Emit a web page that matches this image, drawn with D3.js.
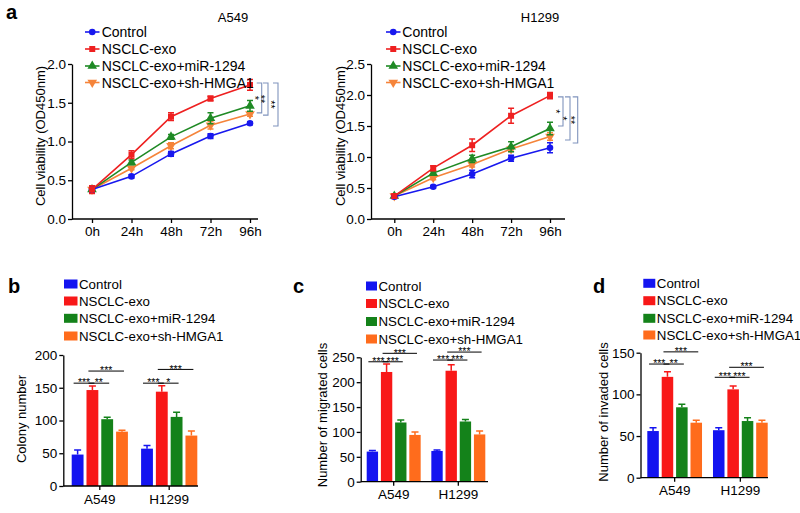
<!DOCTYPE html>
<html><head><meta charset="utf-8">
<script src="https://cdn.jsdelivr.net/npm/d3@7"></script>
<style>
body{margin:0;background:#fff}
svg{display:block;font-family:"Liberation Sans",Arial,sans-serif}
</style></head><body>
<svg id="c" width="800" height="513"></svg>
<script>
// ---------- data ----------
const seriesNames = ["Control","NSCLC-exo","NSCLC-exo+miR-1294","NSCLC-exo+sh-HMGA1"];
const lineColors = ["#1818ee","#ee2020","#1f8a25","#f5843a"];
const barColors = ["#1414f0","#f81818","#14821a","#ff6c1c"];
const hourLabels = ["0h","24h","48h","72h","96h"];

// panel a, A549
const a549Control = [0.38, 0.55, 0.84, 1.07, 1.235];
const a549Exo     = [0.38, 0.83, 1.32, 1.555, 1.73];
const a549Mir     = [0.38, 0.73, 1.06, 1.30, 1.46];
const a549Sh      = [0.38, 0.655, 0.945, 1.21, 1.355];
const a549ControlErr = [0.03, 0.02, 0.03, 0.03, 0.02];
const a549ExoErr     = [0.05, 0.05, 0.05, 0.03, 0.07];
const a549MirErr     = [0.03, 0.03, 0.03, 0.07, 0.07];
const a549ShErr      = [0.03, 0.02, 0.04, 0.05, 0.03];
const a549Brackets = [[1.755, 1.37, "*"], [1.755, 1.34, "**"], [1.755, 1.20, "**"]];

// panel a, H1299
const h1299Control = [0.36, 0.52, 0.725, 0.98, 1.15];
const h1299Exo     = [0.37, 0.82, 1.19, 1.665, 1.99];
const h1299Mir     = [0.37, 0.74, 0.97, 1.165, 1.46];
const h1299Sh      = [0.37, 0.665, 0.88, 1.13, 1.33];
const h1299ControlErr = [0.03, 0.02, 0.06, 0.05, 0.08];
const h1299ExoErr     = [0.03, 0.04, 0.10, 0.12, 0.05];
const h1299MirErr     = [0.02, 0.03, 0.06, 0.08, 0.10];
const h1299ShErr      = [0.02, 0.03, 0.04, 0.04, 0.06];
const h1299Brackets = [[1.97, 1.50, "*"], [1.97, 1.275, "*"], [1.97, 1.225, "**"]];

const groups = ["A549","H1299"];
// panel b
const colonyA549 = [48, 146.5, 102, 83];
const colonyA549Err = [7, 6, 3, 2];
const colonyH1299 = [57, 144, 105.5, 77];
const colonyH1299Err = [5, 9, 7, 7];
const colonySig = [["A549",0,1,157,"***"],["A549",1,2,157,"**"],["A549",1,3,175.5,"***"],
                   ["H1299",0,1,157,"***"],["H1299",1,2,157,"*"],["H1299",1,3,178,"***"]];
// panel c
const migratedA549 = [60.5, 220.5, 119, 94];
const migratedA549Err = [2, 16, 5, 6];
const migratedH1299 = [61.8, 223, 121, 95];
const migratedH1299Err = [2, 12, 4, 7];
const migratedSig = [["A549",0,1,241,"***"],["A549",1,2,241,"***"],["A549",1,3,258,"***"],
                     ["H1299",0,1,244.5,"***"],["H1299",1,2,244.5,"***"],["H1299",1,3,260.5,"***"]];
// panel d
const invadedA549 = [56, 121, 84.5, 66];
const invadedA549Err = [4, 6, 3.5, 3];
const invadedH1299 = [57, 106, 68, 66];
const invadedH1299Err = [3, 4, 4, 3];
const invadedSig = [["A549",0,1,136.4,"***"],["A549",1,2,136.4,"**"],["A549",1,3,151,"***"],
                    ["H1299",0,1,120.5,"***"],["H1299",1,2,120.5,"***"],["H1299",1,3,132.5,"***"]];

// ---------- drawing ----------
const svg = d3.select("#c");
const symbols = [d3.symbolCircle, d3.symbolSquare, d3.symbolTriangle, d3.symbolTriangle];
const symSize = [34, 36, 40, 40];
const symRot = [0, 0, 0, 180];

function styleAxis(sel, fs) {
  sel.attr("font-family", null).attr("font-size", null);
  sel.selectAll("path,line").attr("stroke", "#000").attr("stroke-width", 1.3);
  sel.selectAll("text").attr("fill", "#000").style("font-size", (fs || 13) + "px");
}

function marker(g, i, cx, cy) {
  g.append("path")
    .attr("d", d3.symbol().type(symbols[i]).size(symSize[i])())
    .attr("transform", `translate(${cx},${cy}) rotate(${symRot[i]})`)
    .attr("fill", lineColors[i]);
}

function linePanel(o) {
  const g = svg.append("g");
  const x = d3.scalePoint().domain(hourLabels).range([o.x0, o.x1]);
  const y = d3.scaleLinear().domain([0, o.yMax]).range([219, 64]);

  const ya = g.append("g").attr("transform", `translate(${o.axisX},0)`)
    .call(d3.axisLeft(y).tickValues(o.yTicks).tickFormat(d3.format(".1f")).tickSize(4).tickPadding(2).tickSizeOuter(0));
  styleAxis(ya, 13.5);
  const xa = g.append("g").attr("transform", `translate(0,219)`)
    .call(d3.axisBottom(x).tickSize(4).tickPadding(3.5).tickSizeOuter(0));
  xa.select(".domain").attr("d", `M${o.axisX},0H${o.axisEnd}`);
  styleAxis(xa, 13.5);

  const order = [3, 2, 0, 1];
  order.forEach(i => {
    const m = o.means[i], e = o.errs[i], col = lineColors[i];
    const pts = hourLabels.map((h, k) => [x(h), y(m[k])]);
    g.append("path").attr("d", d3.line()(pts)).attr("fill", "none")
      .attr("stroke", col).attr("stroke-width", 1.6);
    hourLabels.forEach((h, k) => {
      const cx = x(h), yt = y(m[k] + e[k]), yb = y(m[k] - e[k]);
      g.append("path").attr("d", `M${cx},${yt}V${yb}M${cx-3},${yt}H${cx+3}M${cx-3},${yb}H${cx+3}`)
        .attr("stroke", col).attr("stroke-width", 1.5).attr("fill", "none");
      marker(g, i, cx, y(m[k]));
    });
  });

  // brackets
  const bx = x("96h");
  o.brackets.forEach((b, j) => {
    const xx = bx + o.bOff[j], yt = y(b[0]), yb = y(b[1]);
    g.append("path").attr("d", `M${xx-5},${yt}H${xx}V${yb}H${xx-5}`)
      .attr("fill", "none").attr("stroke", "#8094bd").attr("stroke-width", 1.1);
    g.append("text").attr("transform", `translate(${xx-11},${(yt+yb)/2}) rotate(90)`)
      .attr("text-anchor", "middle").style("font-size", "11px").text(b[2]);
  });

  // legend
  seriesNames.forEach((n, i) => {
    const ry = o.rows[i];
    g.append("line").attr("x1", o.lx0).attr("x2", o.lx1).attr("y1", ry).attr("y2", ry)
      .attr("stroke", lineColors[i]).attr("stroke-width", 1.6);
    marker(g, i, (o.lx0 + o.lx1) / 2, ry);
    g.append("text").attr("x", o.tx).attr("y", ry).attr("dy", "0.36em")
      .style("font-size", "14px").text(n);
  });

  g.append("text").attr("x", o.titleX).attr("y", 22).attr("text-anchor", "middle")
    .style("font-size", "13px").text(o.title);
  g.append("text").attr("transform", `translate(${o.ylx},136) rotate(-90)`).attr("dy", "0.35em")
    .attr("text-anchor", "middle").style("font-size", "13px").text("Cell viability (OD450nm)");
  if (o.letter) g.append("text").attr("x", 6).attr("y", 18.5).style("font-size", "20px")
    .style("font-weight", "bold").text(o.letter);
}

function barPanel(o) {
  const g = svg.append("g");
  const y = d3.scaleLinear().domain([0, o.yMax]).range([o.y0, o.yTop]);
  const x0 = d3.scaleBand().domain(groups).range([o.gx0, o.gx1]).paddingInner(o.pad);
  const x1 = d3.scaleBand().domain(d3.range(4)).range([0, x0.bandwidth()]).paddingInner(0.2);

  const ya = g.append("g").attr("transform", `translate(${o.axisX},0)`)
    .call(d3.axisLeft(y).tickValues(d3.range(0, o.yMax + 1, 50)).tickFormat(d3.format("d"))
      .tickSize(4).tickPadding(2).tickSizeOuter(0));
  styleAxis(ya, 13.5);

  groups.forEach((gr, gi) => {
    const vals = o.values[gi], errs = o.errs[gi];
    vals.forEach((v, i) => {
      const bx = x0(gr) + x1(i), bw = x1.bandwidth(), cx = bx + bw / 2;
      g.append("rect").attr("x", bx).attr("y", y(v)).attr("width", bw).attr("height", y(0) - y(v))
        .attr("fill", barColors[i]);
      const yt = y(v + errs[i]);
      g.append("path").attr("d", `M${cx},${y(v)}V${yt}M${cx-3.5},${yt}H${cx+3.5}`)
        .attr("stroke", barColors[i]).attr("stroke-width", 1.5).attr("fill", "none");
    });
  });

  const xa = g.append("g").attr("transform", `translate(0,${o.y0})`)
    .call(d3.axisBottom(x0).tickSize(4).tickPadding(4).tickSizeOuter(0));
  xa.select(".domain").attr("d", `M${o.axisX},0H${o.axisEnd}`);
  styleAxis(xa, 13.5);

  // significance lines
  o.sig.forEach(s => {
    const ca = x0(s[0]) + x1(s[1]) + x1.bandwidth() / 2;
    const cb = x0(s[0]) + x1(s[2]) + x1.bandwidth() / 2;
    const yy = y(s[3]);
    const xa1 = ca - 4, xa2 = cb + 2;
    g.append("line").attr("x1", xa1).attr("x2", xa2).attr("y1", yy).attr("y2", yy)
      .attr("stroke", "#000").attr("stroke-width", 1);
    g.append("text").attr("x", (xa1 + xa2) / 2).attr("y", yy + 3.2).attr("text-anchor", "middle")
      .style("font-size", "10.5px").text(s[4]);
  });

  // legend
  seriesNames.forEach((n, i) => {
    const ry = o.rows[i];
    g.append("rect").attr("x", o.lx).attr("y", ry - 4.5).attr("width", o.lw).attr("height", 9)
      .attr("fill", barColors[i]);
    g.append("text").attr("x", o.lx + o.lw + 1.5).attr("y", ry).attr("dy", "0.36em")
      .style("font-size", "13.3px").text(n);
  });

  g.append("text").attr("x", o.letterX).attr("y", 293).style("font-size", "20px")
    .style("font-weight", "bold").text(o.letter);
  g.append("text").attr("transform", `translate(${o.ylx},${o.yly}) rotate(-90)`).attr("dy", "0.35em")
    .attr("text-anchor", "middle").style("font-size", "13px").text(o.ylabel);
}

linePanel({
  axisX: 72, x0: 92, x1: 250, axisEnd: 258, yMax: 2.0, yTicks: [0, 0.5, 1.0, 1.5, 2.0],
  means: [a549Control, a549Exo, a549Mir, a549Sh], errs: [a549ControlErr, a549ExoErr, a549MirErr, a549ShErr],
  brackets: a549Brackets, bOff: [11.7, 18, 28],
  lx0: 85, lx1: 99.5, tx: 101.7, rows: [32, 49, 66, 82.5],
  title: "A549", titleX: 233, ylx: 40, letter: "a"
});
linePanel({
  axisX: 371, x0: 394.3, x1: 550, axisEnd: 565, yMax: 2.5, yTicks: [0, 0.5, 1.0, 1.5, 2.0, 2.5],
  means: [h1299Control, h1299Exo, h1299Mir, h1299Sh], errs: [h1299ControlErr, h1299ExoErr, h1299MirErr, h1299ShErr],
  brackets: h1299Brackets, bOff: [13, 20, 27.7],
  lx0: 386, lx1: 400.5, tx: 402.3, rows: [32, 49, 66, 82.5],
  title: "H1299", titleX: 540, ylx: 340, letter: null
});

barPanel({
  axisX: 63.3, y0: 486, yTop: 355, yMax: 200, gx0: 71.7, gx1: 197.3, pad: 0.19, axisEnd: 198,
  values: [colonyA549, colonyH1299], errs: [colonyA549Err, colonyH1299Err], sig: colonySig,
  lx: 64, lw: 13.5, rows: [284, 301, 318.3, 336],
  letter: "b", letterX: 8, ylabel: "Colony number", ylx: 21.7, yly: 419
});
barPanel({
  axisX: 360.7, y0: 481.7, yTop: 357.3, yMax: 250, gx0: 366.7, gx1: 485.3, pad: 0.165, axisEnd: 488,
  values: [migratedA549, migratedH1299], errs: [migratedA549Err, migratedH1299Err], sig: migratedSig,
  lx: 366, lw: 11, rows: [286, 303.5, 321.5, 339],
  letter: "c", letterX: 293, ylabel: "Number of migrated cells", ylx: 322.5, yly: 415
});
barPanel({
  axisX: 640.5, y0: 477.7, yTop: 352.7, yMax: 150, gx0: 647.3, gx1: 767.7, pad: 0.167, axisEnd: 768,
  values: [invadedA549, invadedH1299], errs: [invadedA549Err, invadedH1299Err], sig: invadedSig,
  lx: 643.3, lw: 12, rows: [283.3, 300.7, 318.3, 335],
  letter: "d", letterX: 593, ylabel: "Number of invaded cells", ylx: 603, yly: 412
});
</script>
</body></html>
